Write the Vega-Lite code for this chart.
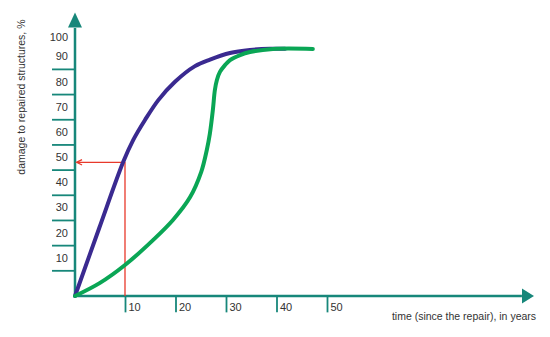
{
  "$schema": "https://vega.github.io/schema/vega-lite/v6.json",
  "width": 455,
  "height": 282,
  "autosize": {"type": "none"},
  "padding": {"left": 75, "top": 14, "right": 20, "bottom": 41},
  "background": "white",
  "config": {"view": {"stroke": null}, "font": "Liberation Sans", "axis": {"disable": true}},
  "datasets": {
    "blue": [
      {"t": 0, "d": 0}, {"t": 4.8, "d": 27.0}, {"t": 9.56, "d": 53.3},
      {"t": 11.54, "d": 62.0}, {"t": 13.86, "d": 69.9}, {"t": 16.5, "d": 77.8}, {"t": 19.8, "d": 85.1},
      {"t": 23.76, "d": 91.3}, {"t": 26.73, "d": 93.9}, {"t": 30.69, "d": 96.5}, {"t": 34.65, "d": 97.7},
      {"t": 38.6, "d": 98.2}, {"t": 41.6, "d": 98.2}
    ],
    "green": [
      {"t": 0, "d": 0}, {"t": 4.95, "d": 5.2}, {"t": 9.9, "d": 12.3}, {"t": 15.45, "d": 22.2},
      {"t": 19.4, "d": 30.2}, {"t": 22.8, "d": 39.3}, {"t": 25.0, "d": 49.3}, {"t": 26.1, "d": 58.0},
      {"t": 26.7, "d": 64.4}, {"t": 27.3, "d": 73.9}, {"t": 27.7, "d": 81.8}, {"t": 28.1, "d": 85.8},
      {"t": 28.7, "d": 89.0}, {"t": 29.7, "d": 91.7}, {"t": 30.7, "d": 93.7}, {"t": 32.7, "d": 95.7},
      {"t": 34.65, "d": 96.9}, {"t": 39.2, "d": 98.1}, {"t": 47.1, "d": 98.1}
    ],
    "red": [
      {"t": 9.9, "d": 0, "o": 1}, {"t": 9.9, "d": 53.1, "o": 2}, {"t": 0.6, "d": 53.1, "o": 3}
    ],
    "xticks": [{"v": 10}, {"v": 20}, {"v": 30}, {"v": 40}, {"v": 50}],
    "yticks": [{"v": 10}, {"v": 20}, {"v": 30}, {"v": 40}, {"v": 50}, {"v": 60}, {"v": 70}, {"v": 80}, {"v": 90}],
    "ytop": [{"v": 100}],
    "titles": [
      {"label": "time (since the repair), in years", "axis": "x"}
    ],
    "ytitle": [
      {"label": "damage to repaired structures, %", "axis": "y"}
    ],
    "one": [{"k": 1}]
  },
  "layer": [
    {
      "data": {"name": "one"},
      "mark": {"type": "rule", "color": "#17877a", "strokeWidth": 2.5},
      "encoding": {
        "x": {"datum": 0, "type": "quantitative", "scale": {"domain": [0, 90.1], "nice": false, "zero": false}},
        "y": {"datum": 0, "type": "quantitative", "scale": {"domain": [0, 112], "nice": false, "zero": false}},
        "y2": {"datum": 106.4}
      }
    },
    {
      "data": {"name": "one"},
      "mark": {"type": "rule", "color": "#17877a", "strokeWidth": 2.5},
      "encoding": {
        "x": {"datum": 0, "type": "quantitative"},
        "x2": {"datum": 88.5},
        "y": {"datum": 0, "type": "quantitative"}
      }
    },
    {
      "data": {"name": "one"},
      "mark": {"type": "point", "shape": "M-0.93,1L0.93,1L0,-1Z", "size": 225, "filled": true, "opacity": 1, "color": "#17877a", "strokeWidth": 0},
      "encoding": {
        "x": {"datum": 0, "type": "quantitative"},
        "y": {"datum": 109.6, "type": "quantitative"}
      }
    },
    {
      "data": {"name": "one"},
      "mark": {"type": "point", "shape": "M-0.8,-1L0.8,0L-0.8,1Z", "size": 225, "filled": true, "opacity": 1, "color": "#17877a", "strokeWidth": 0},
      "encoding": {
        "x": {"datum": 89.7, "type": "quantitative"},
        "y": {"datum": 0, "type": "quantitative"}
      }
    },
    {
      "data": {"name": "yticks"},
      "mark": {"type": "rule", "color": "#17877a", "strokeWidth": 1.8},
      "encoding": {
        "x": {"datum": -4.55, "type": "quantitative"},
        "x2": {"datum": 0},
        "y": {"field": "v", "type": "quantitative"}
      }
    },
    {
      "data": {"name": "xticks"},
      "mark": {"type": "rule", "color": "#17877a", "strokeWidth": 1.8},
      "encoding": {
        "x": {"field": "v", "type": "quantitative"},
        "y": {"datum": 0, "type": "quantitative"},
        "y2": {"datum": -6.5}
      }
    },
    {
      "data": {"name": "yticks"},
      "mark": {"type": "text", "align": "right", "baseline": "middle", "dx": -7, "dy": -12, "fontSize": 11, "color": "#333333"},
      "encoding": {
        "x": {"datum": 0, "type": "quantitative"},
        "y": {"field": "v", "type": "quantitative"},
        "text": {"field": "v", "type": "quantitative"}
      }
    },
    {
      "data": {"name": "ytop"},
      "mark": {"type": "text", "align": "right", "baseline": "middle", "dx": -7, "dy": -6, "fontSize": 11, "color": "#333333"},
      "encoding": {
        "x": {"datum": 0, "type": "quantitative"},
        "y": {"field": "v", "type": "quantitative"},
        "text": {"field": "v", "type": "quantitative"}
      }
    },
    {
      "data": {"name": "xticks"},
      "mark": {"type": "text", "align": "left", "baseline": "middle", "dx": 3, "dy": 12, "fontSize": 11, "color": "#333333"},
      "encoding": {
        "x": {"field": "v", "type": "quantitative"},
        "y": {"datum": 0, "type": "quantitative"},
        "text": {"field": "v", "type": "quantitative"}
      }
    },
    {
      "data": {"name": "titles"},
      "mark": {"type": "text", "align": "right", "baseline": "middle", "fontSize": 10.5, "color": "#333333"},
      "encoding": {
        "x": {"datum": 91.3, "type": "quantitative"},
        "y": {"datum": -8.3, "type": "quantitative"},
        "text": {"field": "label", "type": "nominal"}
      }
    },
    {
      "data": {"name": "ytitle"},
      "mark": {"type": "text", "align": "center", "baseline": "middle", "angle": 270, "fontSize": 10.5, "color": "#333333"},
      "encoding": {
        "x": {"datum": -10.4, "type": "quantitative"},
        "y": {"datum": 79, "type": "quantitative"},
        "text": {"field": "label", "type": "nominal"}
      }
    },
    {
      "data": {"name": "red"},
      "mark": {"type": "line", "color": "#e8392b", "strokeWidth": 1.3},
      "encoding": {
        "x": {"field": "t", "type": "quantitative"},
        "y": {"field": "d", "type": "quantitative"},
        "order": {"field": "o", "type": "quantitative"}
      }
    },
    {
      "data": {"name": "one"},
      "mark": {"type": "point", "shape": "M1,-1L-1,0L1,1", "size": 30, "filled": false, "opacity": 1, "color": "#e8392b", "strokeWidth": 1.3},
      "encoding": {
        "x": {"datum": 0.85, "type": "quantitative"},
        "y": {"datum": 53.1, "type": "quantitative"}
      }
    },
    {
      "data": {"name": "blue"},
      "mark": {"type": "line", "color": "#3a2a90", "strokeWidth": 4, "interpolate": "catmull-rom", "strokeCap": "round"},
      "encoding": {
        "x": {"field": "t", "type": "quantitative"},
        "y": {"field": "d", "type": "quantitative"}
      }
    },
    {
      "data": {"name": "green"},
      "mark": {"type": "line", "color": "#0aa655", "strokeWidth": 4, "interpolate": "catmull-rom", "strokeCap": "round"},
      "encoding": {
        "x": {"field": "t", "type": "quantitative"},
        "y": {"field": "d", "type": "quantitative"}
      }
    }
  ]
}
